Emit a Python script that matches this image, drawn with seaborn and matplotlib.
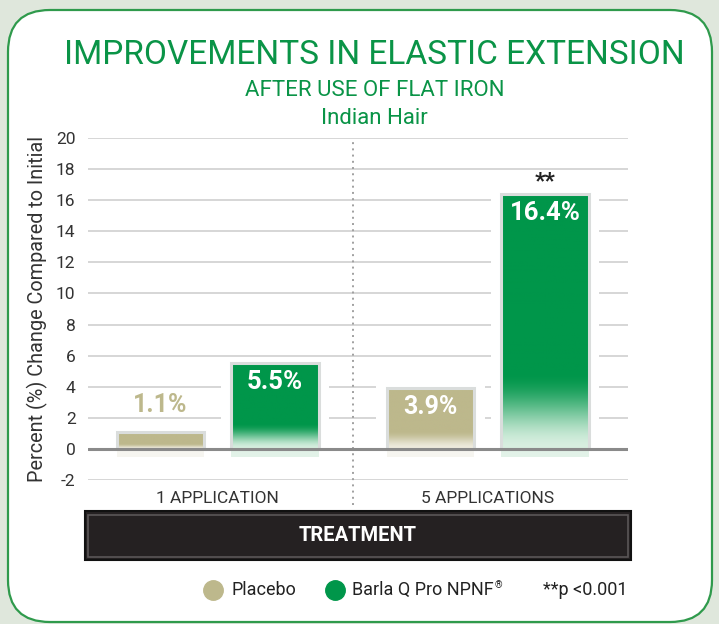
import numpy as np
import pandas as pd
import matplotlib
matplotlib.use("Agg")
import matplotlib.pyplot as plt
from matplotlib.patches import Rectangle, FancyBboxPatch
from matplotlib.lines import Line2D
from matplotlib.colors import to_rgb
import seaborn as sns

treatments = ["1 APPLICATION", "5 APPLICATIONS"]
products = ["Placebo", "Barla Q Pro NPNF®"]
placebo = [1.1, 3.9]
barla = [5.5, 16.4]
labels_placebo = ["1.1%", "3.9%"]
labels_barla = ["5.5%", "16.4%"]

TAN = "#bdb88c"
GREEN = "#00964a"
TITLE_GREEN = "#0a9447"
FONT = ["Roboto", "DejaVu Sans"]

df = pd.DataFrame({
    "treatment": treatments * 2,
    "product": [products[0]] * 2 + [products[1]] * 2,
    "change": placebo + barla,
})

sns.set_theme(style="white")
plt.rcParams["font.family"] = FONT
plt.rcParams["axes.unicode_minus"] = False

fig = plt.figure(figsize=(7.19, 6.24), dpi=100, facecolor="#dfe7dc")

# rounded card behind everything
card = FancyBboxPatch((0.08, 0.02), 7.04, 6.12,
                      boxstyle="round,pad=0,rounding_size=0.42",
                      transform=fig.dpi_scale_trans, facecolor="white",
                      edgecolor="#2f9a4c", linewidth=1.6, zorder=0)
fig.add_artist(card)

ax = fig.add_axes([0.1224, 0.2308, 0.751, 0.548])
ax.set_facecolor("none")
sns.barplot(data=df, x="treatment", y="change", hue="product",
            palette=[TAN, GREEN], width=0.85, gap=0.24, legend=False,
            saturation=1, ax=ax, zorder=3)

XLIM = (-0.48, 1.52)
ax.set_ylim(-2, 20)
ax.set_xlim(*XLIM)
ax.set_yticks(np.arange(-2, 21, 2))
for y in np.arange(-2, 21, 2):
    if y == 0:
        continue
    ax.axhline(y, color="#cfcfcf", lw=1.2, zorder=1)
ax.axhline(0, color="#8a8a8a", lw=2.2, zorder=6)
for s in ax.spines.values():
    s.set_visible(False)

ax.plot([0.5, 0.5], [-3.6, 20], color="#a0a0a0", lw=1.4,
        ls=(0, (1, 2.2)), clip_on=False, zorder=2)


def gradient(solid, light, n=256, frac=0.3):
    s = np.array(to_rgb(solid))
    l = np.array(to_rgb(light))
    f = np.linspace(0, 1, n)
    t = np.clip(f / frac, 0, 1)
    t = t * t * (3 - 2 * t)
    cols = l[None, :] * (1 - t[:, None]) + s[None, :] * t[:, None]
    return cols[:, None, :]


styles = [(TAN, "#efece0", "#f6f5f0"), (GREEN, "#d8efe0", "#e2f2e8")]
for cont, (solid, light, refl) in zip(ax.containers, styles):
    for bar in cont:
        x0 = bar.get_x()
        w = bar.get_width()
        h = bar.get_height()
        # white halo that breaks the grid lines
        ax.add_patch(Rectangle((x0 - 0.04, -0.7), w + 0.08, h + 0.95,
                               facecolor="white", edgecolor="none", zorder=2))
        # faint reflection below zero
        ax.add_patch(Rectangle((x0, -0.5), w, 0.5, facecolor=refl,
                               edgecolor="none", zorder=2.5))
        img = ax.imshow(gradient(solid, light), origin="lower", aspect="auto",
                        extent=(x0, x0 + w, 0, h), zorder=4)
        img.set_clip_path(bar)
        bar.set_facecolor("none")
        ax.add_patch(Rectangle((x0, 0), w, h, facecolor="none",
                               edgecolor="#dadddc", lw=2.2, zorder=5))

ax.set_xlim(*XLIM)
ax.set_ylim(-2, 20)

bars_p = ax.containers[0]
bars_b = ax.containers[1]
b = bars_p[0]
ax.text(b.get_x() + b.get_width() / 2, 2.85, labels_placebo[0], color=TAN,
        ha="center", va="center", fontsize=18, fontweight="bold", zorder=7)
b = bars_p[1]
ax.text(b.get_x() + b.get_width() / 2, b.get_height() - 1.2, labels_placebo[1],
        color="white", ha="center", va="center", fontsize=18,
        fontweight="bold", zorder=7)
for b, lab in zip(bars_b, labels_barla):
    ax.text(b.get_x() + b.get_width() / 2, b.get_height() - 1.2, lab,
            color="white", ha="center", va="center", fontsize=18.5,
            fontweight="bold", zorder=7)
b = bars_b[1]
ax.text(b.get_x() + b.get_width() / 2, b.get_height() + 0.8, "**",
        color="#222222", ha="center", va="center", fontsize=16,
        fontweight="black", zorder=7)

ax.tick_params(axis="both", length=0, labelsize=12.5, colors="#333333")
ax.tick_params(axis="y", pad=9)
ax.tick_params(axis="x", pad=8)
ax.set_xlabel("")
ax.set_ylabel("Percent (%) Change Compared to Initial", fontsize=14.3,
              color="#333333", labelpad=6)

# titles
fig.text(0.521, 0.912, "IMPROVEMENTS IN ELASTIC EXTENSION", color=TITLE_GREEN,
         ha="center", va="center", fontsize=24)
fig.text(0.521, 0.855, "AFTER USE OF FLAT IRON", color=TITLE_GREEN,
         ha="center", va="center", fontsize=16)
fig.text(0.521, 0.810, "Indian Hair", color=TITLE_GREEN,
         ha="center", va="center", fontsize=16)

# treatment bar
fig.add_artist(Rectangle((0.118, 0.1026), 0.759, 0.0785,
                         transform=fig.transFigure, facecolor="#252122",
                         edgecolor="#111111", lw=1.5, zorder=2))
fig.add_artist(Rectangle((0.122, 0.108), 0.751, 0.067,
                         transform=fig.transFigure, facecolor="none",
                         edgecolor="#5a5657", lw=1.2, zorder=3))
fig.text(0.498, 0.1426, "TREATMENT", color="white", ha="center", va="center",
         fontsize=14.5, fontweight="bold", zorder=4)

# legend
ly = 1 - 590 / 624
for xpx, col in [(213, TAN), (335, GREEN)]:
    fig.add_artist(Line2D([xpx / 719], [ly], marker="o", markersize=14,
                          color=col, transform=fig.transFigure, zorder=4))
fig.text(232 / 719, ly, products[0], fontsize=13, color="#222222", va="center")
t2 = fig.text(352 / 719, ly, products[1].rstrip("®"), fontsize=13,
              color="#222222", va="center")
fig.canvas.draw()
bb = t2.get_window_extent().transformed(fig.transFigure.inverted())
fig.text(bb.x1 + 0.001, ly + 0.008, "®", fontsize=7, color="#222222",
         va="center")
fig.text(543 / 719, ly, "**p <0.001", fontsize=13, color="#222222", va="center")

fig.savefig("out.png", dpi=100, facecolor=fig.get_facecolor())
